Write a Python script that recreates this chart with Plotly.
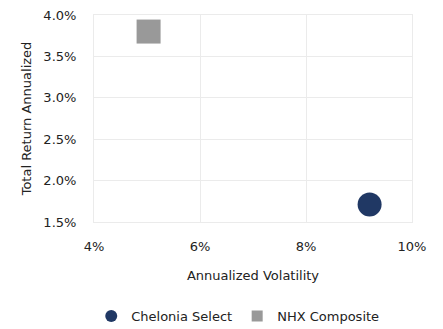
import plotly.graph_objects as go

# Risk / return points
names = ["Chelonia Select", "NHX Composite"]
volatility = [9.2, 5.03]       # annualized volatility, %
total_return = [1.71, 3.80]    # total return annualized, %
symbols = ["circle", "square"]
colors = ["#203864", "#999999"]
legend_sizes = [12, 11]

x_ticks = [4, 6, 8, 10]
y_ticks = [1.5, 2.0, 2.5, 3.0, 3.5, 4.0]

FONT = dict(family="DejaVu Sans", size=13, color="#222222")

fig = go.Figure()
for n, x, y, s, c, ls in zip(names, volatility, total_return, symbols, colors, legend_sizes):
    # plotted marker
    fig.add_trace(go.Scatter(
        x=[x], y=[y], name=n, mode="markers", legendgroup=n, showlegend=False,
        marker=dict(symbol=s, color=c, size=24, line=dict(width=0)),
    ))
    # smaller legend swatch
    fig.add_trace(go.Scatter(
        x=[None], y=[None], name=n, mode="markers", legendgroup=n,
        marker=dict(symbol=s, color=c, size=ls, line=dict(width=0)),
    ))

fig.update_layout(
    width=443, height=329,
    margin=dict(l=94, r=31, t=15, b=107),
    paper_bgcolor="white", plot_bgcolor="white",
    font=FONT,
    showlegend=True,
    legend=dict(orientation="h", x=0.452, xanchor="center",
                y=1 - 316 / 329, yanchor="middle", yref="container",
                font=FONT, itemwidth=30, itemsizing="trace"),
    xaxis=dict(
        range=[4, 10], tickvals=x_ticks, ticktext=[f"{v}%" for v in x_ticks],
        showgrid=True, gridcolor="#ebebeb", gridwidth=1,
        showline=True, linecolor="#ebebeb", mirror=True, zeroline=False,
        ticks="outside", ticklen=12, tickcolor="rgba(0,0,0,0)",
        automargin=False,
        title=dict(text="Annualized Volatility", standoff=18, font=FONT),
    ),
    yaxis=dict(
        range=[1.5, 4.0], tickvals=y_ticks, ticktext=[f"{v:.1f}%" for v in y_ticks],
        showgrid=True, gridcolor="#ebebeb", gridwidth=1,
        showline=True, linecolor="#ebebeb", mirror=True, zeroline=False,
        ticks="outside", ticklen=14, tickcolor="rgba(0,0,0,0)",
        automargin=False,
        title=dict(text="Total Return Annualized", standoff=8, font=FONT),
    ),
)

fig.write_html("out.html")
